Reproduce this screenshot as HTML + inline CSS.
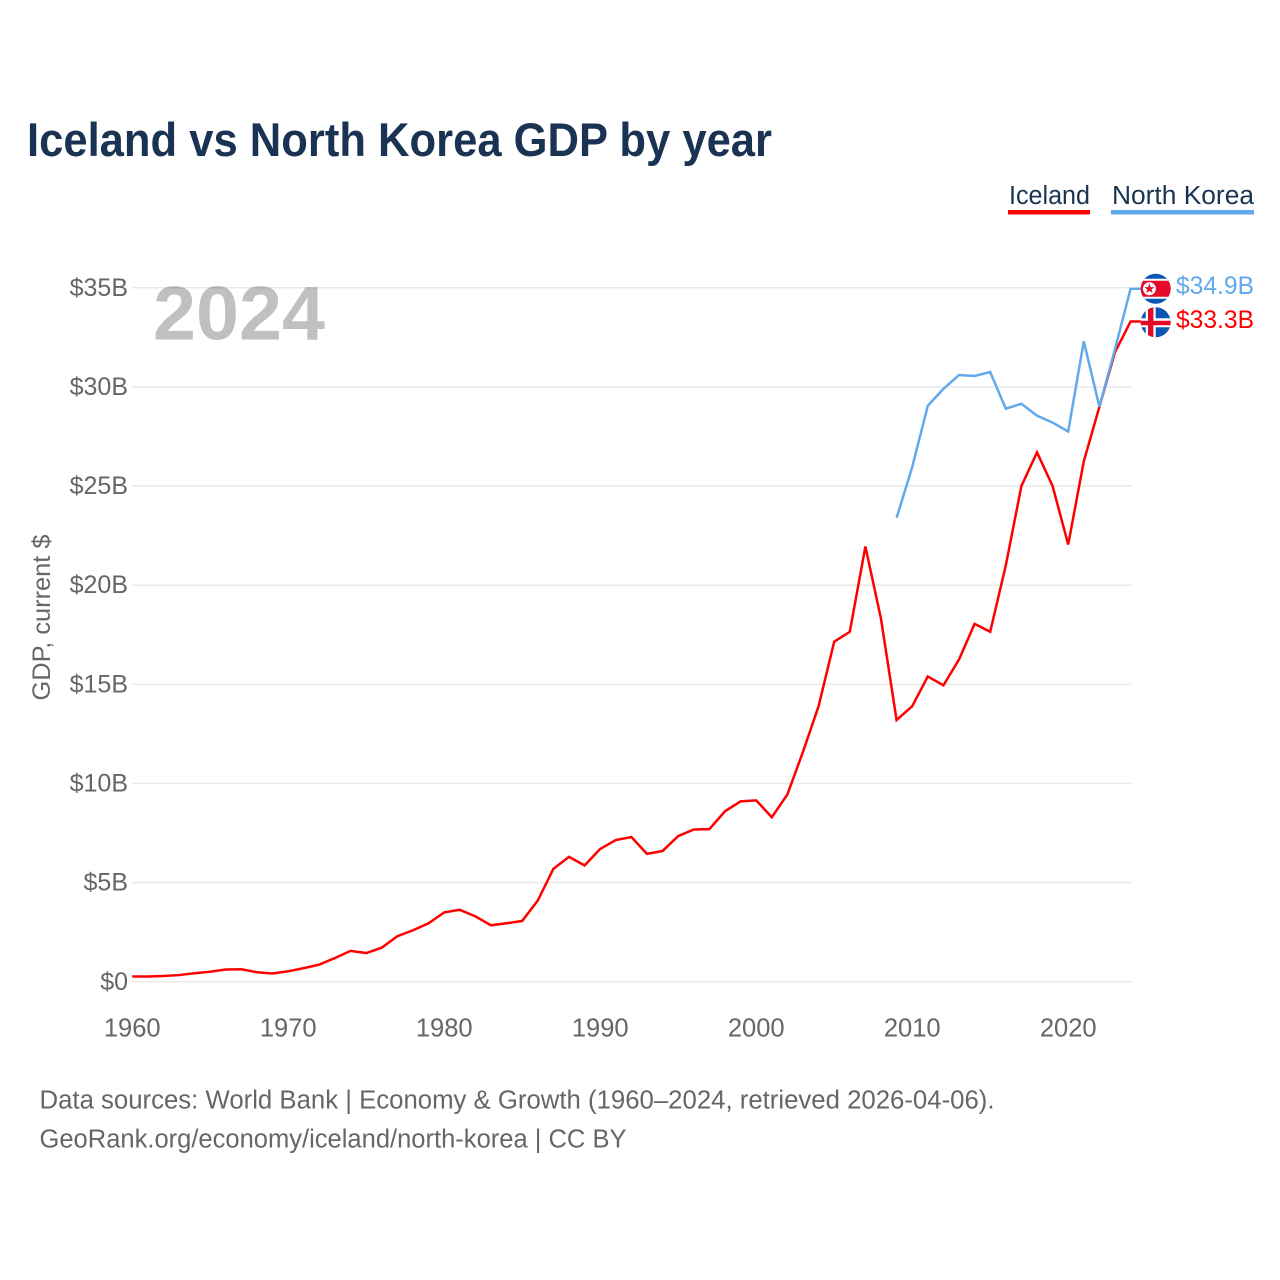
<!DOCTYPE html>
<html lang="en">
<head>
<meta charset="utf-8">
<title>Iceland vs North Korea GDP by year</title>
<style>
html,body{margin:0;padding:0;background:#fff;}
svg{display:block;font-family:"Liberation Sans",sans-serif;}
</style>
</head>
<body>
<svg id="chart" width="1280" height="1280" viewBox="0 0 1280 1280" xmlns="http://www.w3.org/2000/svg">
  <defs>
    <clipPath id="flag-clip"><circle cx="0" cy="0" r="15"/></clipPath>
  </defs>
  <rect x="0" y="0" width="1280" height="1280" fill="#ffffff"/>
  <text x="27" y="156" font-size="47" font-weight="700" fill="#1a3353" textLength="745" lengthAdjust="spacingAndGlyphs">Iceland vs North Korea GDP by year</text>

  <g>
    <g>
      <text x="1009" y="204" font-size="25.5" fill="#1a3353" textLength="81" lengthAdjust="spacingAndGlyphs">Iceland</text>
      <rect x="1008" y="210" width="82" height="4.5" fill="#ff0000"/>
    </g>
    <g>
      <text x="1112" y="204" font-size="25.5" fill="#1a3353" textLength="142" lengthAdjust="spacingAndGlyphs">North Korea</text>
      <rect x="1111" y="210" width="143" height="4.5" fill="#62a9ec"/>
    </g>
  </g>

  <text transform="translate(50,617.5) rotate(-90)" text-anchor="middle" font-size="25" fill="#666666" textLength="166" lengthAdjust="spacingAndGlyphs">GDP, current $</text>

  <g id="grid"></g>
  <text x="153" y="339.5" font-size="76" font-weight="700" fill="#000000" fill-opacity="0.247" textLength="172" lengthAdjust="spacingAndGlyphs">2024</text>
  <g id="y-ticks"></g>
  <g id="x-ticks"></g>
  <g id="series"></g>

  <g id="flag-nk">
    <g clip-path="url(#flag-clip)">
      <rect x="-16" y="-16" width="32" height="32" fill="#0b56b4"/>
      <rect x="-16" y="-10" width="32" height="20" fill="#ffffff"/>
      <rect x="-16" y="-8" width="32" height="16" fill="#e30a2c"/>
      <circle cx="-6.3" cy="0" r="6.5" fill="#ffffff"/>
      <polygon points="-6.3,-5.3 -5,-1.6 -1.2,-1.6 -4.2,0.7 -3.1,4.3 -6.3,2.1 -9.5,4.3 -8.4,0.7 -11.4,-1.6 -7.6,-1.6" fill="#e30a2c"/>
    </g>
  </g>
  <g id="flag-is">
    <g clip-path="url(#flag-clip)">
      <rect x="-16" y="-16" width="32" height="32" fill="#0b56b4"/>
      <rect x="-10" y="-16" width="10" height="32" fill="#ffffff"/>
      <rect x="-16" y="-4" width="32" height="9" fill="#ffffff"/>
      <rect x="-7.7" y="-16" width="5.4" height="32" fill="#e30a2c"/>
      <rect x="-16" y="-1.5" width="32" height="4.5" fill="#e30a2c"/>
    </g>
  </g>
  <g id="value-labels"></g>

  <g>
    <text x="39.5" y="1108.5" font-size="25.5" fill="#666666" textLength="955" lengthAdjust="spacingAndGlyphs">Data sources: World Bank | Economy &amp; Growth (1960–2024, retrieved 2026-04-06).</text>
    <text x="39.5" y="1147.5" font-size="25.5" fill="#666666" textLength="587" lengthAdjust="spacingAndGlyphs">GeoRank.org/economy/iceland/north-korea | CC BY</text>
  </g>
</svg>

<script>
const years = [1960,1961,1962,1963,1964,1965,1966,1967,1968,1969,1970,1971,1972,1973,1974,1975,1976,1977,1978,1979,1980,1981,1982,1983,1984,1985,1986,1987,1988,1989,1990,1991,1992,1993,1994,1995,1996,1997,1998,1999,2000,2001,2002,2003,2004,2005,2006,2007,2008,2009,2010,2011,2012,2013,2014,2015,2016,2017,2018,2019,2020,2021,2022,2023,2024];
const icelandValues = [0.27,0.27,0.29,0.34,0.43,0.51,0.62,0.63,0.48,0.42,0.53,0.69,0.87,1.2,1.56,1.45,1.72,2.3,2.6,2.95,3.5,3.63,3.3,2.85,2.95,3.07,4.1,5.7,6.3,5.87,6.7,7.15,7.3,6.45,6.6,7.35,7.68,7.7,8.6,9.1,9.15,8.3,9.45,11.6,13.9,17.15,17.65,21.95,18.3,13.2,13.9,15.4,14.95,16.25,18.05,17.65,21.0,25.0,26.7,25.0,22.05,26.25,29.0,31.75,33.3];
const northKoreaYears = [2009,2010,2011,2012,2013,2014,2015,2016,2017,2018,2019,2020,2021,2022,2023,2024];
const northKoreaValues = [23.4,25.95,29.05,29.9,30.6,30.55,30.75,28.9,29.15,28.55,28.2,27.75,32.3,29.0,31.9,34.95];
const yTickValues = [0,5,10,15,20,25,30,35];
const yTickLabels = ["$0","$5B","$10B","$15B","$20B","$25B","$30B","$35B"];
const xTickYears = [1960,1970,1980,1990,2000,2010,2020];
const endLabels = ["$33.3B","$34.9B"];

const NS = "http://www.w3.org/2000/svg";
function xScale(year){ return 132.2 + (year - 1960) * 15.6; }
function yScale(value){ return 981.8 - value * 19.83; }
function make(tag, attrs, parent){
  const el = document.createElementNS(NS, tag);
  for (const k in attrs) el.setAttribute(k, attrs[k]);
  parent.appendChild(el);
  return el;
}

const gridG = document.getElementById("grid");
const yG = document.getElementById("y-ticks");
yTickValues.forEach(function(v, i){
  const line = make("line", {x1:132, x2:1131, y1:yScale(v), y2:yScale(v), stroke:"#e9e9e9", "stroke-width":1.5}, gridG);
  
  
  const t = make("text", {x:128, y:yScale(v)+8, "text-anchor":"end", "font-size":25, fill:"#666666"}, yG);
  t.textContent = yTickLabels[i];
  
  
});

const xG = document.getElementById("x-ticks");
xTickYears.forEach(function(y){
  const t = make("text", {x:xScale(y), y:1036.5, "text-anchor":"middle", "font-size":25.5, fill:"#666666"}, xG);
  t.textContent = String(y);
  
  
});

function pathFor(xs, ys){
  const pts = xs.map(function(x, i){ return xScale(x).toFixed(2) + "," + yScale(ys[i]).toFixed(2); });
  const last = ys[ys.length - 1];
  pts.push("1141," + yScale(last).toFixed(2));
  return "M" + pts.join("L");
}
const seriesG = document.getElementById("series");
const icelandLine = make("path", {d:pathFor(years, icelandValues), fill:"none", stroke:"#ff0000", "stroke-width":2.5, "stroke-linejoin":"miter"}, seriesG);


const nkLine = make("path", {d:pathFor(northKoreaYears, northKoreaValues), fill:"none", stroke:"#62a9ec", "stroke-width":2.5, "stroke-linejoin":"miter"}, seriesG);



const isEnd = yScale(icelandValues[icelandValues.length - 1]);
const nkEnd = yScale(northKoreaValues[northKoreaValues.length - 1]);
document.getElementById("flag-is").setAttribute("transform", "translate(1155.7," + (isEnd + 0.8) + ")");
document.getElementById("flag-nk").setAttribute("transform", "translate(1155.7," + nkEnd + ")");

const labelsG = document.getElementById("value-labels");
const isLabel = make("text", {x:1254, y:isEnd+6.3, "text-anchor":"end", "font-size":25, fill:"#ff0000", textLength:78, lengthAdjust:"spacingAndGlyphs"}, labelsG);
isLabel.textContent = endLabels[0];


const nkLabel = make("text", {x:1254, y:nkEnd+5.5, "text-anchor":"end", "font-size":25, fill:"#62a9ec", textLength:78, lengthAdjust:"spacingAndGlyphs"}, labelsG);
nkLabel.textContent = endLabels[1];


</script>
</body>
</html>
